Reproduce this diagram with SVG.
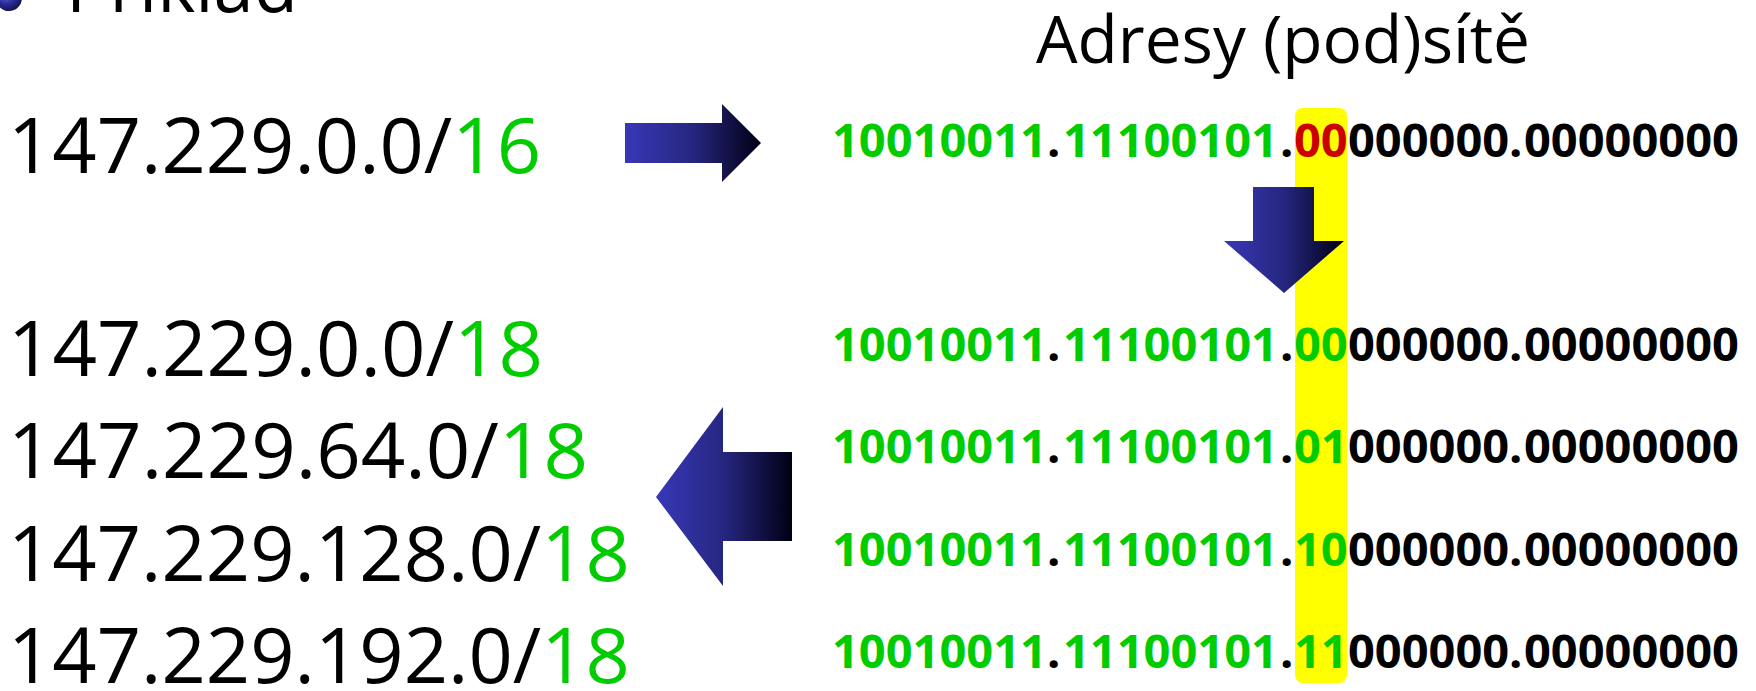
<svg xmlns="http://www.w3.org/2000/svg" width="1756" height="691" viewBox="0 0 1756 691">
<style>
.ip{font-family:"Open Sans",sans-serif;font-size:76px;fill:#000}
.hd{font-family:"Open Sans",sans-serif;font-size:65px;fill:#000}
.bin{font-family:"Open Sans",sans-serif;font-weight:bold;font-size:47px;fill:#000}
.g{fill:#00cc00}
.r{fill:#cc0000}
.arrow{fill:url(#arrowGrad)}
</style>
<defs>
<linearGradient id="arrowGrad" x1="0" y1="0" x2="1" y2="0">
<stop offset="0" stop-color="#3838b8"/>
<stop offset="0.5" stop-color="#262680"/>
<stop offset="1" stop-color="#000014"/>
</linearGradient>
<radialGradient id="bulletGrad" cx="0.4" cy="0.35" r="0.65">
<stop offset="0" stop-color="#6a6ad8"/>
<stop offset="0.6" stop-color="#2a2a98"/>
<stop offset="1" stop-color="#141450"/>
</radialGradient>
</defs>
<rect width="1756" height="691" fill="#fff"/>

<g id="heading">
<circle cx="9" cy="-2" r="13" fill="url(#bulletGrad)"/>
<text class="ip" x="66" y="12" textLength="232" lengthAdjust="spacingAndGlyphs">Příklad</text>
</g>

<g id="title">
<text class="hd" x="1036" y="63" textLength="494" lengthAdjust="spacingAndGlyphs">Adresy (pod)sítě</text>
</g>

<g id="network">
<text class="ip" x="8" y="173" textLength="533" lengthAdjust="spacingAndGlyphs">147.229.0.0/<tspan class="g">16</tspan></text>
</g>

<g id="subnets">
<text class="ip" x="8" y="376" textLength="535" lengthAdjust="spacingAndGlyphs">147.229.0.0/<tspan class="g">18</tspan></text>
<text class="ip" x="8" y="478" textLength="580" lengthAdjust="spacingAndGlyphs">147.229.64.0/<tspan class="g">18</tspan></text>
<text class="ip" x="8" y="581" textLength="622" lengthAdjust="spacingAndGlyphs">147.229.128.0/<tspan class="g">18</tspan></text>
<text class="ip" x="8" y="683" textLength="622" lengthAdjust="spacingAndGlyphs">147.229.192.0/<tspan class="g">18</tspan></text>
</g>

<g id="highlight">
<rect x="1295" y="108" width="52" height="575" rx="8" fill="#ffff00"/>
</g>

<g id="binary-network">
<text class="bin" y="157"><tspan class="g" x="832">10010011</tspan><tspan x="1047">.</tspan><tspan class="g" x="1063">11100101</tspan><tspan x="1280">.</tspan><tspan class="r" x="1294">00</tspan><tspan x="1348">000000</tspan><tspan x="1509">.</tspan><tspan x="1524">00000000</tspan></text>
</g>

<g id="binary-subnets">
<text class="bin" y="361"><tspan class="g" x="832">10010011</tspan><tspan x="1047">.</tspan><tspan class="g" x="1063">11100101</tspan><tspan x="1280">.</tspan><tspan class="g" x="1294">00</tspan><tspan x="1348">000000</tspan><tspan x="1509">.</tspan><tspan x="1524">00000000</tspan></text>
<text class="bin" y="463"><tspan class="g" x="832">10010011</tspan><tspan x="1047">.</tspan><tspan class="g" x="1063">11100101</tspan><tspan x="1280">.</tspan><tspan class="g" x="1294">01</tspan><tspan x="1348">000000</tspan><tspan x="1509">.</tspan><tspan x="1524">00000000</tspan></text>
<text class="bin" y="566"><tspan class="g" x="832">10010011</tspan><tspan x="1047">.</tspan><tspan class="g" x="1063">11100101</tspan><tspan x="1280">.</tspan><tspan class="g" x="1294">10</tspan><tspan x="1348">000000</tspan><tspan x="1509">.</tspan><tspan x="1524">00000000</tspan></text>
<text class="bin" y="668"><tspan class="g" x="832">10010011</tspan><tspan x="1047">.</tspan><tspan class="g" x="1063">11100101</tspan><tspan x="1280">.</tspan><tspan class="g" x="1294">11</tspan><tspan x="1348">000000</tspan><tspan x="1509">.</tspan><tspan x="1524">00000000</tspan></text>
</g>

<g id="connectors">
<polygon class="arrow" points="625,123 722,123 722,104 761,143 722,182 722,163 625,163"/>
<polygon class="arrow" points="1253,187 1314,187 1314,241 1344,241 1284,293 1224,241 1253,241"/>
<polygon class="arrow" points="656,497 723,407 723,452 792,452 792,541 723,541 723,586"/>
</g>
</svg>
